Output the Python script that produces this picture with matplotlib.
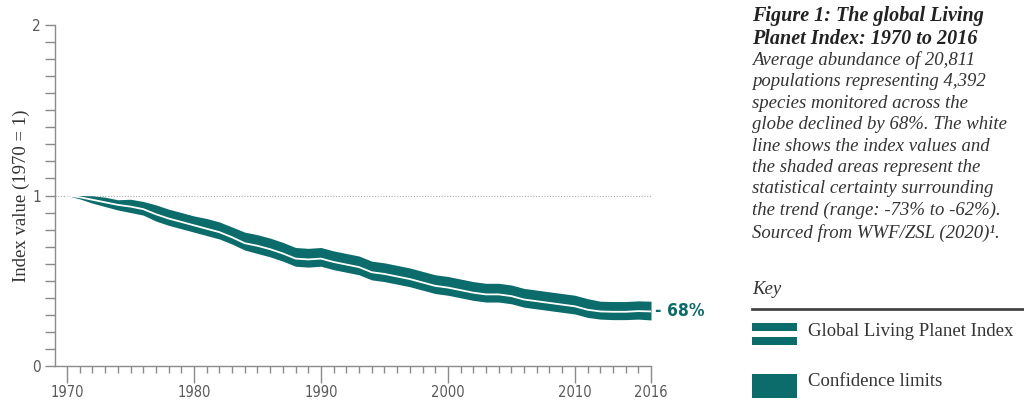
# Global Living Planet Index 1970-2016, with confidence band

import matplotlib
matplotlib.use('Agg')
import matplotlib.pyplot as plt
from matplotlib.patches import Rectangle
from matplotlib.lines import Line2D

years = list(range(1970, 2017))

index_values = [1.0, 0.99, 0.975, 0.96, 0.945, 0.935, 0.92, 0.89, 0.865, 0.845,
                0.825, 0.805, 0.785, 0.755, 0.72, 0.705, 0.685, 0.66, 0.63, 0.625,
                0.63, 0.61, 0.595, 0.58, 0.55, 0.54, 0.525, 0.51, 0.49, 0.47,
                0.46, 0.445, 0.43, 0.42, 0.42, 0.41, 0.39, 0.38, 0.37, 0.36,
                0.35, 0.33, 0.32, 0.318, 0.318, 0.322, 0.32]

upper_limit = [1.0, 1.0, 0.998, 0.99, 0.975, 0.978, 0.965, 0.945, 0.92, 0.9,
               0.88, 0.865, 0.845, 0.815, 0.785, 0.77, 0.75, 0.725, 0.695, 0.69,
               0.695, 0.675, 0.66, 0.645, 0.615, 0.605, 0.59, 0.575, 0.555, 0.535,
               0.525, 0.51, 0.495, 0.485, 0.485, 0.475, 0.455, 0.445, 0.435, 0.425,
               0.415, 0.395, 0.38, 0.378, 0.378, 0.382, 0.38]

lower_limit = [1.0, 0.98, 0.955, 0.935, 0.915, 0.9, 0.885, 0.85, 0.825, 0.805,
               0.785, 0.765, 0.745, 0.715, 0.68, 0.66, 0.64, 0.615, 0.585, 0.58,
               0.585, 0.565, 0.55, 0.535, 0.505, 0.495, 0.48, 0.465, 0.445, 0.425,
               0.415, 0.4, 0.385, 0.375, 0.375, 0.365, 0.345, 0.335, 0.325, 0.315,
               0.305, 0.285, 0.275, 0.272, 0.272, 0.275, 0.27]

major_years = [1970, 1980, 1990, 2000, 2010, 2016]
y_ticks = [0, 1, 2]

teal = '#0c6b6b'
grey = '#8a8a8a'
text_grey = '#5a5a5a'
serif = ['Liberation Serif', 'DejaVu Serif']

fig = plt.figure(figsize=(10.24, 4), dpi=100)
ax = fig.add_axes([55 / 1024, 34 / 400, 596 / 1024, 341 / 400])

ax.fill_between(years, lower_limit, upper_limit, color=teal, linewidth=0)
ax.plot(years, index_values, color='white', linewidth=1.3)
ax.axhline(1, color='#aaaaaa', linestyle=(0, (1, 1.5)), linewidth=0.8, zorder=0)

ax.set_xlim(1969.05, 2016)
ax.set_ylim(0, 2)

for side in ['top', 'right']:
    ax.spines[side].set_visible(False)
for side in ['left', 'bottom']:
    ax.spines[side].set_color(grey)
    ax.spines[side].set_linewidth(1)

ax.set_xticks(major_years)
ax.set_xticks(years, minor=True)
ax.set_yticks(y_ticks)
ax.set_yticks([i / 10 for i in range(21)], minor=True)
ax.tick_params(axis='x', which='major', length=12, width=1, color=grey,
               labelsize=10.5, labelcolor=text_grey, pad=2)
ax.tick_params(axis='x', which='minor', length=5, width=1, color=grey)
ax.tick_params(axis='y', which='both', length=7, width=1, color=grey,
               labelsize=11, labelcolor=text_grey, pad=3)
for lab in ax.get_xticklabels() + ax.get_yticklabels():
    lab.set_family('DejaVu Sans')
    lab.set_stretch('condensed')

ax.set_ylabel('Index value (1970 = 1)', family=serif, fontsize=13.5,
              color='#333333')
ax.yaxis.set_label_coords(-0.042, 0.5)

# end label
ax.text(years[-1] + 0.3, index_values[-1], '- 68%', color=teal,
        family='DejaVu Sans', stretch='condensed', fontsize=12.5,
        fontweight='bold', va='center', ha='left')

# right-hand caption
fig.text(752 / 1024, 1 - 6 / 400,
         'Figure 1: The global Living\nPlanet Index: 1970 to 2016',
         family=serif, style='italic', fontweight='bold', fontsize=14.5,
         color='#222222', va='top', linespacing=1.2)
body = ('Average abundance of 20,811\n'
        'populations representing 4,392\n'
        'species monitored across the\n'
        'globe declined by 68%. The white\n'
        'line shows the index values and\n'
        'the shaded areas represent the\n'
        'statistical certainty surrounding\n'
        'the trend (range: -73% to -62%).\n'
        'Sourced from WWF/ZSL (2020)\u00b9.')
fig.text(752 / 1024, 1 - 51 / 400, body, family=serif, style='italic',
         fontsize=13.5, color='#333333', va='top', linespacing=1.34)

# key
fig.text(752 / 1024, 1 - 289 / 400, 'Key', family=serif, style='italic',
         fontsize=13.5, color='#333333', va='center')
fig.add_artist(Line2D([752 / 1024, 1.0], [1 - 309 / 400] * 2,
                      color='#444444', linewidth=2))
fig.add_artist(Rectangle((752 / 1024, 1 - 331 / 400), 45 / 1024, 8 / 400,
                         color=teal, linewidth=0))
fig.add_artist(Rectangle((752 / 1024, 1 - 345 / 400), 45 / 1024, 8 / 400,
                         color=teal, linewidth=0))
fig.text(808 / 1024, 1 - 331 / 400, 'Global Living Planet Index', family=serif,
         fontsize=13.5, color='#333333', va='center')
fig.add_artist(Rectangle((752 / 1024, 1 - 398 / 400), 45 / 1024, 24 / 400,
                         color=teal, linewidth=0))
fig.text(808 / 1024, 1 - 382 / 400, 'Confidence limits', family=serif,
         fontsize=13.5, color='#333333', va='center')

fig.savefig('out.png', dpi=100)
